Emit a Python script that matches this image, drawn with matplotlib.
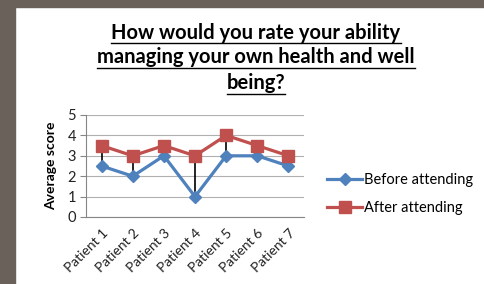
import matplotlib
matplotlib.use("Agg")
import matplotlib.pyplot as plt
from matplotlib.patches import Rectangle
from matplotlib.lines import Line2D

categories = ["Patient 1", "Patient 2", "Patient 3", "Patient 4", "Patient 5", "Patient 6", "Patient 7"]
before = [2.5, 2, 3, 1, 3, 3, 2.5]
after = [3.5, 3, 3.5, 3, 4, 3.5, 3]
yticks = [0, 1, 2, 3, 4, 5]
title_lines = ["How would you rate your ability", "managing your own health and well", "being?"]

W, H = 485, 284
fig = plt.figure(figsize=(W / 100, H / 100), dpi=100)
fig.patch.set_facecolor("white")
frame = "#6b615b"
fig.add_artist(Rectangle((0, 0), 15 / W, 1, transform=fig.transFigure, color=frame, zorder=0))
fig.add_artist(Rectangle((0, 1 - 7 / H), 1, 7 / H, transform=fig.transFigure, color=frame, zorder=0))

ax = fig.add_axes([86 / W, (H - 217) / H, (304 - 86) / W, (217 - 115) / H])
x = list(range(len(categories)))
for xi, b, a in zip(x, before, after):
    ax.plot([xi, xi], [b, a], color="black", lw=1.2, zorder=2)
ax.plot(x, before, color="#4F81BD", lw=2.3, marker="D", ms=6, label="Before attending", zorder=3)
ax.plot(x, after, color="#C0504D", lw=2.3, marker="s", ms=8, label="After attending", zorder=4)

ax.set_xlim(-0.5, len(categories) - 0.5)
ax.set_ylim(0, 5)
ax.set_yticks(yticks)
ax.set_xticks(x)
ax.set_xticklabels(categories, rotation=45, ha="right", rotation_mode="anchor", fontsize=10,
                   family="Lato", color="#222222")
ax.tick_params(axis="x", length=0, pad=7)
ax.tick_params(axis="y", length=4.3, color="#868686", labelsize=10.5, labelcolor="#222222", pad=3)
for lab in ax.get_yticklabels():
    lab.set_family("Lato")
ax.grid(axis="y", color="#b0b0b0", lw=0.8)
ax.set_axisbelow(True)
for s in ["top", "right"]:
    ax.spines[s].set_visible(False)
ax.spines["left"].set_color("#868686")
ax.spines["bottom"].set_color("#868686")
ax.set_ylabel("Average score", fontsize=10, fontweight="bold", family="Lato", labelpad=7)

fig.canvas.draw()
r = fig.canvas.get_renderer()
for line, base, ul in zip(title_lines, [39, 63, 89], [43, 68, 94]):
    t = fig.text(256 / W, 1 - base / H, line, ha="center", va="baseline", fontsize=14.5,
                 fontweight="bold", family="Lato")
    bb = t.get_window_extent(r)
    fig.add_artist(Line2D([bb.x0 / W, bb.x1 / W], [1 - ul / H, 1 - ul / H],
                          transform=fig.transFigure, color="black", lw=1.0))

leg = fig.legend(loc="upper left", bbox_to_anchor=(327 / W, 1 - 173 / H), frameon=False,
                 prop={"family": "Lato", "size": 10.5}, handlelength=2.4, handletextpad=0.15,
                 labelspacing=0.95, borderpad=0, borderaxespad=0)
plt.savefig("out.png", dpi=100)
